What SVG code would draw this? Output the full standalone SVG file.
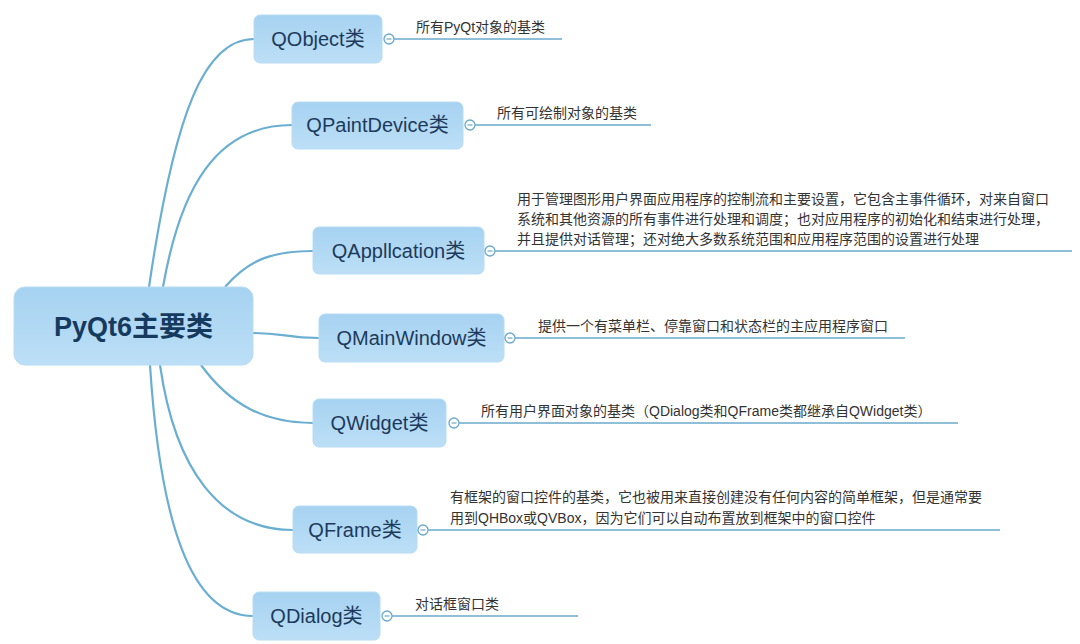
<svg xmlns="http://www.w3.org/2000/svg" width="1080" height="644" viewBox="0 0 1080 644">
<defs>
<linearGradient id="nodeFill" x1="0" y1="0" x2="0" y2="1">
<stop offset="0" stop-color="#a6d2f1"/>
<stop offset="1" stop-color="#bcdff6"/>
</linearGradient>
<style>
.box{fill:url(#nodeFill);stroke:#b8dcf4;stroke-width:1}
.lbl{font-family:"Liberation Sans","Noto Sans CJK SC",sans-serif;font-size:20px;fill:#1d3a5c;text-anchor:middle}
.root{font-family:"Liberation Sans","Noto Sans CJK SC",sans-serif;font-size:27px;font-weight:bold;fill:#163a5e;text-anchor:middle}
.desc{font-family:"Liberation Sans","Noto Sans CJK SC",sans-serif;font-size:14px;fill:#333333}
.conn{fill:none;stroke:#6aaed2;stroke-width:2.2}
.under{fill:none;stroke:#6aa8cc;stroke-width:1.6}
.knob{fill:#ffffff;stroke:#6aa8cc;stroke-width:1.3}
.dash{stroke:#6aa8cc;stroke-width:1.2}
</style>
</defs>
<rect width="1080" height="644" fill="#ffffff"/>
<g id="connectors">
<path class="conn" d="M149,287 C175,110 205,39 254,39"/>
<path class="conn" d="M163,287 C180,190 215,125 292,125"/>
<path class="conn" d="M225,287 C250,258 275,251 313,251"/>
<path class="conn" d="M253,333 C285,333 285,338 319,338"/>
<path class="conn" d="M201,365 C230,405 265,423 313,423"/>
<path class="conn" d="M160,365 C175,470 220,530 293,530"/>
<path class="conn" d="M150,365 C160,520 190,616 253,616"/>
</g>
<g id="root">
<rect class="box" x="14" y="287" width="239" height="78" rx="11"/>
<text class="root" x="133.5" y="336">PyQt6主要类</text>
</g>
<g id="qobject">
<rect class="box" x="254" y="15" width="128" height="48" rx="6"/>
<text class="lbl" x="318" y="46">QObject类</text>
<line class="under" x1="394" y1="39" x2="562" y2="39"/>
<circle class="knob" cx="389" cy="39" r="5"/><line class="dash" x1="386.5" y1="39" x2="391.5" y2="39"/>
<text class="desc" x="416" y="32">所有PyQt对象的基类</text>
</g>
<g id="qpaintdevice">
<rect class="box" x="292" y="102" width="171" height="47" rx="6"/>
<text class="lbl" x="377.5" y="132">QPaintDevice类</text>
<line class="under" x1="475" y1="125" x2="651" y2="125"/>
<circle class="knob" cx="470" cy="125" r="5"/><line class="dash" x1="467.5" y1="125" x2="472.5" y2="125"/>
<text class="desc" x="497" y="118">所有可绘制对象的基类</text>
</g>
<g id="qapplication">
<rect class="box" x="313" y="227" width="171" height="47" rx="6"/>
<text class="lbl" x="398.5" y="258">QAppllcation类</text>
<line class="under" x1="495" y1="251" x2="1072" y2="251"/>
<circle class="knob" cx="490" cy="251" r="5"/><line class="dash" x1="487.5" y1="251" x2="492.5" y2="251"/>
<text class="desc" x="517" y="204">用于管理图形用户界面应用程序的控制流和主要设置，它包含主事件循环，对来自窗口</text>
<text class="desc" x="517" y="224">系统和其他资源的所有事件进行处理和调度；也对应用程序的初始化和结束进行处理，</text>
<text class="desc" x="517" y="244">并且提供对话管理；还对绝大多数系统范围和应用程序范围的设置进行处理</text>
</g>
<g id="qmainwindow">
<rect class="box" x="319" y="314" width="185" height="48" rx="6"/>
<text class="lbl" x="411.5" y="345">QMainWindow类</text>
<line class="under" x1="515" y1="338" x2="905" y2="338"/>
<circle class="knob" cx="510" cy="338" r="5"/><line class="dash" x1="507.5" y1="338" x2="512.5" y2="338"/>
<text class="desc" x="538" y="331">提供一个有菜单栏、停靠窗口和状态栏的主应用程序窗口</text>
</g>
<g id="qwidget">
<rect class="box" x="313" y="399" width="133" height="48" rx="6"/>
<text class="lbl" x="379.5" y="430">QWidget类</text>
<line class="under" x1="459" y1="423" x2="958" y2="423"/>
<circle class="knob" cx="454" cy="423" r="5"/><line class="dash" x1="451.5" y1="423" x2="456.5" y2="423"/>
<text class="desc" x="481" y="416">所有用户界面对象的基类（QDialog类和QFrame类都继承自QWidget类）</text>
</g>
<g id="qframe">
<rect class="box" x="293" y="506" width="124" height="47" rx="6"/>
<text class="lbl" x="355" y="537">QFrame类</text>
<line class="under" x1="428" y1="530" x2="1000" y2="530"/>
<circle class="knob" cx="423" cy="530" r="5"/><line class="dash" x1="420.5" y1="530" x2="425.5" y2="530"/>
<text class="desc" x="450" y="502">有框架的窗口控件的基类，它也被用来直接创建没有任何内容的简单框架，但是通常要</text>
<text class="desc" x="450" y="523">用到QHBox或QVBox，因为它们可以自动布置放到框架中的窗口控件</text>
</g>
<g id="qdialog">
<rect class="box" x="253" y="592" width="127" height="48" rx="6"/>
<text class="lbl" x="316.5" y="623">QDialog类</text>
<line class="under" x1="392" y1="616" x2="578" y2="616"/>
<circle class="knob" cx="387" cy="616" r="5"/><line class="dash" x1="384.5" y1="616" x2="389.5" y2="616"/>
<text class="desc" x="415" y="609">对话框窗口类</text>
</g>
</svg>
